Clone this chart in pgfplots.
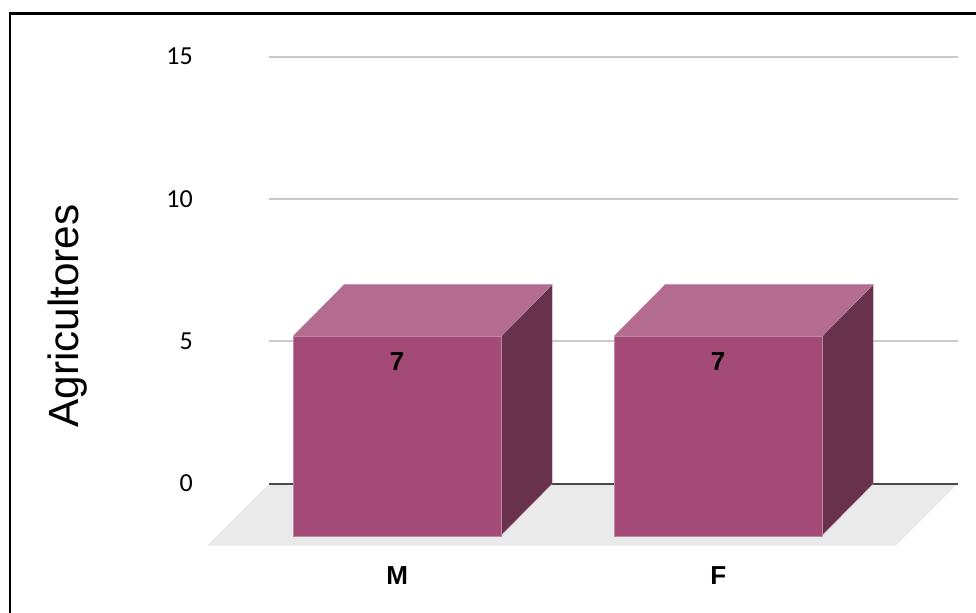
\documentclass[border=0pt]{standalone}
\usepackage{fontspec}
\usepackage{pgfplots}
\pgfplotsset{compat=1.18}
\setmainfont{Carlito}
\newfontfamily\arial{Liberation Sans}
\definecolor{barfront}{HTML}{A34A76}
\definecolor{bartop}{HTML}{B36C90}
\definecolor{barside}{HTML}{69324C}
\definecolor{baredge}{HTML}{B98AA2}
\definecolor{floorgray}{HTML}{EAEAEA}
\definecolor{gridgray}{HTML}{CACACA}
\definecolor{zeroline}{HTML}{484848}
% shared scale of the wall axis and the front axis
\pgfplotsset{
  boxaxis/.style={
    scale only axis, width=516.75pt, height=320.1pt,
    anchor=south west,
    xmin=-0.5583, xmax=1.5881, ymin=0, ymax=15,
    axis line style={draw=none},
    major tick length=0pt,
    clip=false,
  },
}
\begin{document}
\begin{tikzpicture}
\useasboundingbox (0,0) rectangle (732pt,459.75pt);
% outer frame: left and top edges only reach the page borders
\draw[black, line width=1.6pt] (7.8pt,0) -- (7.8pt,449.6pt) -- (732pt,449.6pt);

% back wall: gridlines, floor, and the side and top faces of the boxes
\begin{axis}[boxaxis,
    at={(201.75pt,97pt)},
    xtick=\empty,
    ytick={0,5,10,15},
    ymajorgrids,
    grid style={gridgray, line width=1.6pt},
    yticklabel shift=57pt,
    yticklabel style={font=\fontsize{19.5}{21}\selectfont, anchor=east, inner sep=0pt, yshift=0.2pt},
    /pgf/number format/assume math mode=true,
    ylabel={\arial\fontsize{31.7}{34}\selectfont Agricultores},
    every axis y label/.style={at={(axis description cs:-0.292,0.393)}, rotate=90, anchor=center},
  ]
  \addplot[fill=floorgray, draw=none, forget plot] coordinates
    {(-0.5583,0) (1.5881,0) (1.3949,-2.18) (-0.7514,-2.18)};
  \addplot[zeroline, line width=1.6pt, forget plot] coordinates {(-0.5583,0) (1.5881,0)};
  % category M
  \addplot[fill=barside, draw=baredge, line width=0.25pt, forget plot] coordinates
    {(0.324,0) (0.324,7) (0.165,5.186) (0.165,-1.814)} -- cycle;
  \addplot[fill=bartop, draw=baredge, line width=0.25pt, forget plot] coordinates
    {(-0.324,7) (0.324,7) (0.165,5.186) (-0.483,5.186)} -- cycle;
  % category F
  \addplot[fill=barside, draw=baredge, line width=0.25pt, forget plot] coordinates
    {(1.324,0) (1.324,7) (1.165,5.186) (1.165,-1.814)} -- cycle;
  \addplot[fill=bartop, draw=baredge, line width=0.25pt, forget plot] coordinates
    {(0.676,7) (1.324,7) (1.165,5.186) (0.517,5.186)} -- cycle;
\end{axis}

% front plane: the box fronts, stepped forward from the wall
\begin{axis}[boxaxis,
    at={(163.5pt,57.9pt)},
    ytick=\empty,
    xtick={0,1},
    xticklabels={M,F},
    xticklabel shift=36.2pt,
    xticklabel style={font=\arial\bfseries\fontsize{19.5}{21}\selectfont, anchor=base, inner sep=0pt, text height=13pt},
    ybar, bar width=156pt,
    /pgf/bar shift=0pt,
    nodes near coords,
    /pgf/number format/assume math mode=true,
    nodes near coords align={below},
    every node near coord/.append style={font=\arial\bfseries\fontsize{19.5}{21}\selectfont, black, yshift=-10.2pt, inner sep=2pt},
  ]
  \addplot[fill=barfront, draw=baredge, line width=0.25pt] coordinates {(0,7) (1,7)};
\end{axis}
\end{tikzpicture}
\end{document}
